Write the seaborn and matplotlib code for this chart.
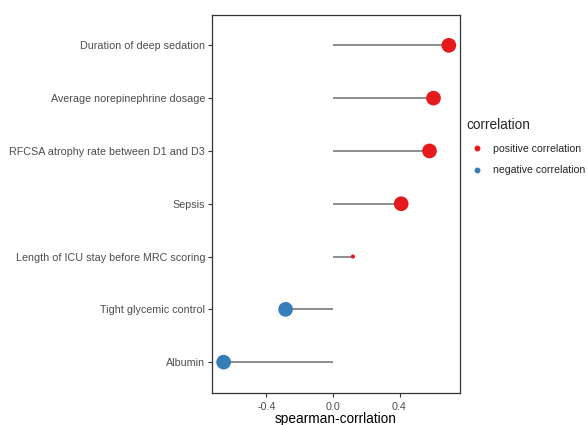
import numpy as np
import pandas as pd
import matplotlib
matplotlib.use("Agg")
import matplotlib.pyplot as plt
import seaborn as sns
from matplotlib.lines import Line2D

# variables (bottom to top) and their spearman correlations
variables = ["Albumin",
             "Tight glycemic control",
             "Length of ICU stay before MRC scoring",
             "Sepsis",
             "RFCSA atrophy rate between D1 and D3",
             "Average norepinephrine dosage",
             "Duration of deep sedation"]
rho = [-0.656, -0.284, 0.12, 0.41, 0.58, 0.604, 0.696]
significant = ["yes", "yes", "no", "yes", "yes", "yes", "yes"]
xticks = [-0.4, 0.0, 0.4]

data = pd.DataFrame({"variable": variables, "rho": rho, "sig": significant})
data["correlation"] = np.where(data["rho"] > 0, "positive correlation", "negative correlation")

sns.set_style("ticks")
plt.rcParams["font.family"] = ["Liberation Sans", "DejaVu Sans"]

fig = plt.figure(figsize=(5.88, 4.25), dpi=100)
ax = fig.add_axes([0.3605, 0.0758, 0.4215, 0.8896])

pal = {"positive correlation": "#E41A1C", "negative correlation": "#377EB8"}

ax.hlines(y=data["variable"], xmin=0, xmax=data["rho"], color="#7a7a7a", linewidth=1.2, zorder=1)
sns.scatterplot(data=data, x="rho", y="variable", hue="correlation", palette=pal,
                size="sig", sizes={"yes": 112, "no": 9}, linewidth=0, legend=False,
                ax=ax, zorder=2)

ax.set_xlim(-0.726, 0.762)
ax.set_ylim(-0.58, 6.58)
ax.set_xticks(xticks)
ax.set_xticklabels(["-0.4", "0.0", "0.4"])
ax.set_xlabel("spearman-corrlation", fontsize=9.8, color="black", labelpad=0)
ax.set_ylabel("")
for s in ax.spines.values():
    s.set_visible(True)
    s.set_color("#333333")
    s.set_linewidth(0.9)
ax.tick_params(axis="both", length=3, width=0.8, color="#333333", labelcolor="#4d4d4d",
               labelsize=7.75, pad=2)
ax.tick_params(axis="x", pad=3.5)

handles = [Line2D([], [], marker="o", linestyle="", color=pal[k], markersize=3.2, label=k)
           for k in ["positive correlation", "negative correlation"]]
leg = fig.legend(handles=handles, title="correlation", loc="upper left",
                 bbox_to_anchor=(466 / 588, 1 - 118 / 425), frameon=False, fontsize=7.6,
                 title_fontsize=9.8, handletextpad=0.55, labelspacing=1.1,
                 borderpad=0, borderaxespad=0)
leg._legend_box.align = "left"

fig.savefig("out.png", dpi=100)
